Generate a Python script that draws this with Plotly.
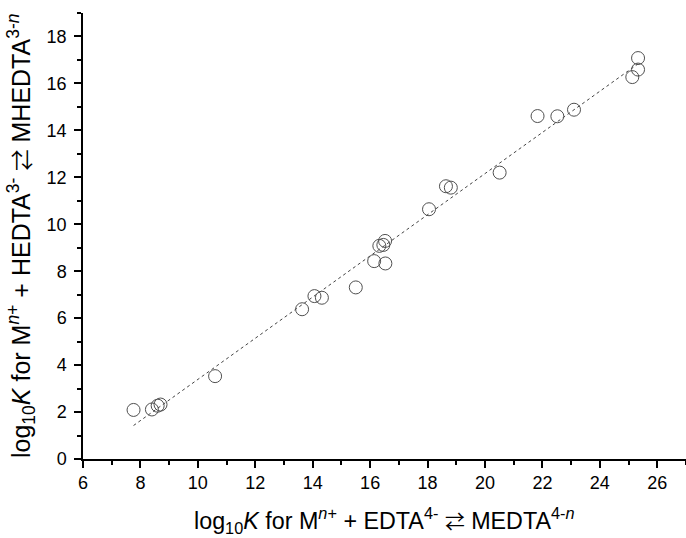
import numpy as np
import plotly.graph_objects as go

# log10 K for M(n+) + EDTA(4-)
edta_logk = [7.76, 8.40, 8.60, 8.70, 10.60, 13.63, 14.06, 14.32, 15.50, 16.14,
             16.32, 16.46, 16.52, 16.53, 18.05, 18.64, 18.81, 20.51, 21.83, 22.52,
             23.10, 25.13, 25.33, 25.33]
# log10 K for M(n+) + HEDTA(3-)
hedta_logk = [2.09, 2.11, 2.27, 2.32, 3.53, 6.38, 6.94, 6.87, 7.31, 8.43,
              9.08, 9.12, 9.29, 8.33, 10.64, 11.62, 11.56, 12.20, 14.61, 14.60,
              14.88, 16.27, 16.59, 17.08]

x_ticks = list(range(6, 27, 2))
y_ticks = list(range(0, 19, 2))

arrow = "<span style=\"font-family:'Noto Sans CJK JP';font-size:0.85em\">\u21c4</span>"
x_title = ("log<sub>10</sub><i>K</i> for M<sup><i>n</i>+</sup> + EDTA<sup>4-</sup> "
           + arrow + " MEDTA<sup>4-<i>n</i></sup>")
y_title = ("log<sub>10</sub><i>K</i> for M<sup><i>n</i>+</sup> + HEDTA<sup>3-</sup> "
           + arrow + " MHEDTA<sup>3-<i>n</i></sup>")

slope, intercept = np.polyfit(edta_logk, hedta_logk, 1)
fit_x = [min(edta_logk), max(edta_logk)]
fit_y = [slope * v + intercept for v in fit_x]

fig = go.Figure()
fig.add_trace(go.Scatter(x=fit_x, y=fit_y, mode="lines",
                         line=dict(color="#444444", width=1, dash="3px,3px"),
                         showlegend=False, hoverinfo="skip"))
fig.add_trace(go.Scatter(x=edta_logk, y=hedta_logk, mode="markers",
                         marker=dict(symbol="circle-open", size=13,
                                     color="#505050", line=dict(width=1)),
                         showlegend=False))

font_family = "Liberation Sans, Arial, sans-serif"
axis_common = dict(showgrid=False, zeroline=False, showline=True,
                   linecolor="black", linewidth=1.5,
                   ticks="outside", ticklen=7, tickwidth=1.5, tickcolor="black",
                   tickfont=dict(family=font_family, size=18, color="black"),
                   mirror=False, automargin=False)

fig.update_layout(
    width=686, height=538,
    margin=dict(l=83, r=0, t=13, b=79),
    paper_bgcolor="white", plot_bgcolor="white",
    font=dict(family=font_family, color="black"),
    xaxis=dict(range=[6, 27], tickvals=x_ticks,
               minor=dict(dtick=1, tick0=6, ticks="outside", ticklen=4,
                          tickwidth=1.5, tickcolor="black"),
               **axis_common),
    yaxis=dict(range=[0, 19], tickvals=y_ticks, ticklabelstandoff=4,
               minor=dict(dtick=1, tick0=0, ticks="outside", ticklen=4,
                          tickwidth=1.5, tickcolor="black"),
               **axis_common),
    annotations=[
        dict(text=x_title, xref="paper", yref="paper", x=0.5, y=0,
             xanchor="center", yanchor="middle", yshift=-61, showarrow=False,
             font=dict(family=font_family, size=23.3, color="black")),
        dict(text=y_title, xref="paper", yref="paper", x=0, y=0.5,
             xanchor="center", yanchor="middle", xshift=-62, textangle=-90,
             showarrow=False,
             font=dict(family=font_family, size=25, color="black")),
    ],
)

fig.write_html("out.html", config={"displayModeBar": False},
               post_script="document.body.style.margin='0';")
